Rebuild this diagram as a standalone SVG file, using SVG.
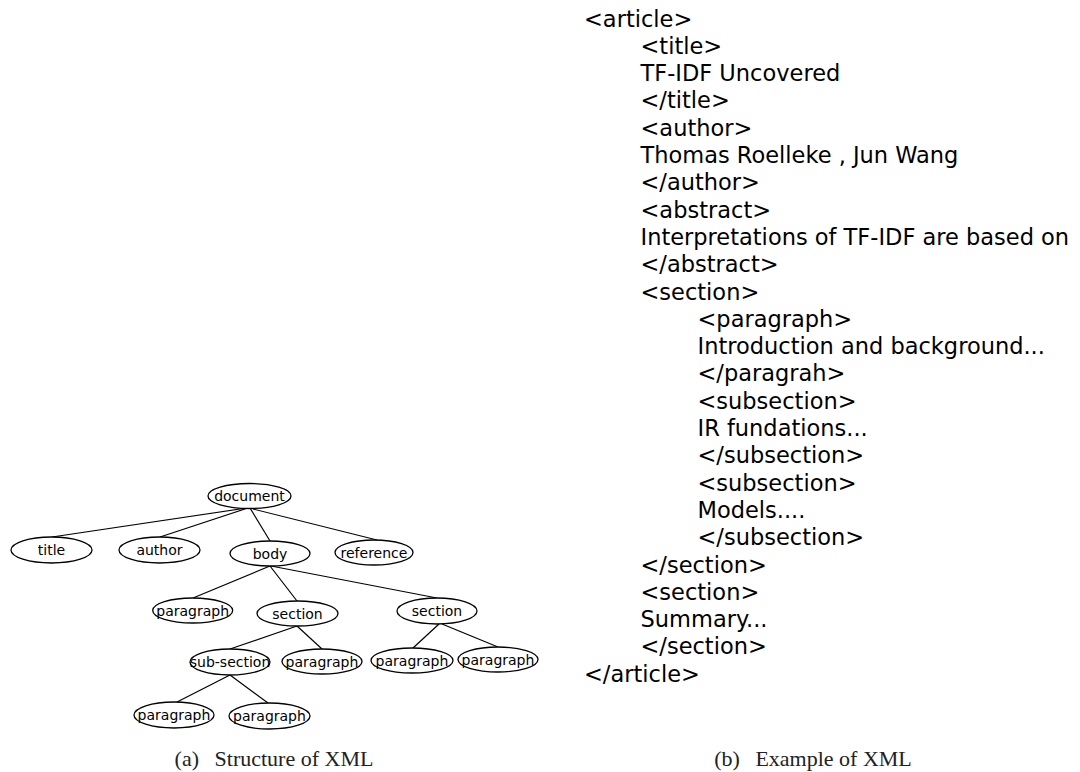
<svg xmlns="http://www.w3.org/2000/svg" width="1080" height="772" viewBox="0 0 1080 772">
<style>
.n ellipse{fill:#fff;stroke:#000;stroke-width:1.3}
.n text{font-family:"DejaVu Sans",sans-serif;font-size:14px;text-anchor:middle;fill:#000}
.e line{stroke:#000;stroke-width:1.2}
.x{font-family:"DejaVu Sans",sans-serif;font-size:22.5px;fill:#000}
.cap{font-family:"Liberation Serif","Times New Roman",serif;font-size:22px;fill:#222;text-anchor:middle}
</style>
<rect width="1080" height="772" fill="#fff"/>
<g id="connectors" class="e">
<line x1="247" y1="508" x2="52" y2="537"/>
<line x1="248" y1="508" x2="160" y2="537"/>
<line x1="250" y1="508" x2="270" y2="541"/>
<line x1="253" y1="509" x2="377" y2="540"/>
<line x1="270" y1="566" x2="193" y2="598"/>
<line x1="270" y1="566" x2="297" y2="601"/>
<line x1="271" y1="566" x2="437" y2="598"/>
<line x1="297" y1="626" x2="230" y2="649"/>
<line x1="297" y1="626" x2="322" y2="649"/>
<line x1="439" y1="624" x2="413" y2="648"/>
<line x1="442" y1="624" x2="498" y2="647"/>
<line x1="230" y1="675" x2="177" y2="702"/>
<line x1="230" y1="675" x2="268" y2="703"/>
</g>
<g id="n-document" class="n"><ellipse cx="249.5" cy="496" rx="41.5" ry="12.5"/><text x="249.5" y="501">document</text></g>
<g id="n-title" class="n"><ellipse cx="51.5" cy="550" rx="40.5" ry="13"/><text x="51.5" y="555">title</text></g>
<g id="n-author" class="n"><ellipse cx="159.5" cy="550" rx="40.5" ry="13"/><text x="159.5" y="555">author</text></g>
<g id="n-body" class="n"><ellipse cx="270" cy="553.5" rx="40" ry="12.5"/><text x="270" y="558.5">body</text></g>
<g id="n-reference" class="n"><ellipse cx="374" cy="552.5" rx="39" ry="12.5"/><text x="374" y="557.5">reference</text></g>
<g id="n-paragraph1" class="n"><ellipse cx="192.7" cy="610.5" rx="40" ry="12.5"/><text x="192.7" y="615.5">paragraph</text></g>
<g id="n-section1" class="n"><ellipse cx="297.5" cy="613.5" rx="40.5" ry="12.5"/><text x="297.5" y="618.5">section</text></g>
<g id="n-section2" class="n"><ellipse cx="437" cy="611" rx="40" ry="13"/><text x="437" y="616">section</text></g>
<g id="n-subsection" class="n"><ellipse cx="230" cy="662" rx="40" ry="13"/><text x="230" y="667">sub-section</text></g>
<g id="n-paragraph2" class="n"><ellipse cx="322" cy="661.5" rx="40" ry="12.5"/><text x="322" y="666.5">paragraph</text></g>
<g id="n-paragraph3" class="n"><ellipse cx="412" cy="660.5" rx="41" ry="12.5"/><text x="412" y="665.5">paragraph</text></g>
<g id="n-paragraph4" class="n"><ellipse cx="498" cy="659.5" rx="40" ry="12.5"/><text x="498" y="664.5">paragraph</text></g>
<g id="n-paragraph5" class="n"><ellipse cx="174" cy="715" rx="40" ry="13"/><text x="174" y="720">paragraph</text></g>
<g id="n-paragraph6" class="n"><ellipse cx="269.5" cy="716" rx="40.5" ry="13"/><text x="269.5" y="721">paragraph</text></g>
<g id="xml-example" class="x">
<text x="584" y="26.5">&lt;article&gt;</text>
<text x="640.5" y="53.8">&lt;title&gt;</text>
<text x="640.5" y="81.1">TF-IDF Uncovered</text>
<text x="640.5" y="108.4">&lt;/title&gt;</text>
<text x="640.5" y="135.7">&lt;author&gt;</text>
<text x="640.5" y="163">Thomas Roelleke , Jun Wang</text>
<text x="640.5" y="190.3">&lt;/author&gt;</text>
<text x="640.5" y="217.6">&lt;abstract&gt;</text>
<text x="640.5" y="244.9">Interpretations of TF-IDF are based on</text>
<text x="640.5" y="272.2">&lt;/abstract&gt;</text>
<text x="640.5" y="299.5">&lt;section&gt;</text>
<text x="697.5" y="326.8">&lt;paragraph&gt;</text>
<text x="697.5" y="354.1">Introduction and background...</text>
<text x="697.5" y="381.4">&lt;/paragrah&gt;</text>
<text x="697.5" y="408.7">&lt;subsection&gt;</text>
<text x="697.5" y="436">IR fundations...</text>
<text x="697.5" y="463.3">&lt;/subsection&gt;</text>
<text x="697.5" y="490.6">&lt;subsection&gt;</text>
<text x="697.5" y="517.9">Models....</text>
<text x="697.5" y="545.2">&lt;/subsection&gt;</text>
<text x="640.5" y="572.5">&lt;/section&gt;</text>
<text x="640.5" y="599.8">&lt;section&gt;</text>
<text x="640.5" y="627.1">Summary...</text>
<text x="640.5" y="654.4">&lt;/section&gt;</text>
<text x="584" y="681.7">&lt;/article&gt;</text>
</g>
<text class="cap" x="274" y="766">(a)<tspan dx="10"> Structure of XML</tspan></text>
<text class="cap" x="813" y="766">(b)<tspan dx="10"> Example of XML</tspan></text>
</svg>
